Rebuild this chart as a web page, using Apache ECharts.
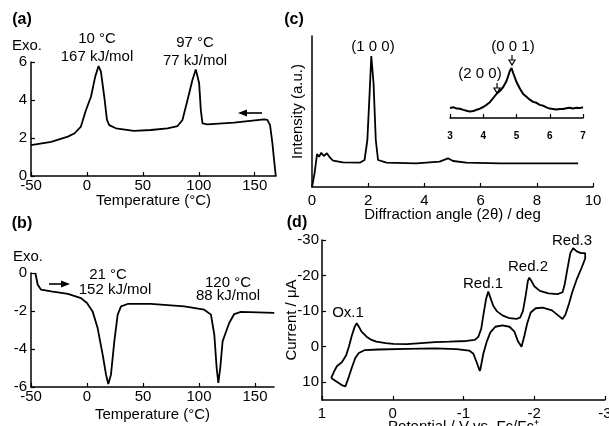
<!DOCTYPE html>
<html>
<head>
<meta charset="utf-8">
<script src="https://cdn.jsdelivr.net/npm/echarts/dist/echarts.min.js"></script>
<style>
  html, body { margin: 0; padding: 0; background: #fff; }
  #main { width: 609px; height: 426px; }
</style>
</head>
<body>
<div id="main"></div>
<script>
// (a) DSC cooling
var tempA = [-50, -32, -17, -11, -5.4, -1, 3.6, 7.4, 10.4, 12.5, 15.5, 17.9, 19.9, 25.9, 42, 57, 72, 81, 85.4, 89.9, 94.3, 97.3, 100.3, 101.8, 103.3, 107.7, 131.5, 158.3, 161.3, 163.7, 165.8, 167.3, 168.8];
var heatA = [1.63, 1.8, 2.07, 2.25, 2.6, 3.45, 4.17, 5.23, 5.79, 5.49, 4.17, 2.95, 2.68, 2.51, 2.37, 2.42, 2.51, 2.63, 2.95, 4.0, 5.05, 5.61, 4.88, 3.47, 2.77, 2.72, 2.81, 2.98, 2.95, 2.68, 1.72, 0.84, 0];

// (b) DSC heating
var tempB = [-46.1, -44, -41, -32, -17, -5.4, 0, 5, 9.5, 14, 17, 19, 21.4, 24.4, 27.4, 30.4, 36.3, 57, 86.9, 104.7, 110.7, 113.7, 115.8, 117.3, 119, 121.1, 123.2, 127, 131.5, 137.5, 167.2];
var heatB = [0, -0.62, -0.88, -0.97, -1.1, -1.32, -1.58, -2.02, -2.9, -4.3, -5.35, -5.84, -5.35, -3.6, -2.19, -1.76, -1.63, -1.63, -1.76, -1.93, -2.19, -3.25, -5.0, -5.79, -5.0, -3.6, -3.25, -2.63, -2.16, -2.05, -2.1];

// (c) XRD
var angleC = [0, 0.09, 0.18, 0.25, 0.33, 0.42, 0.53, 0.63, 0.75, 1.1, 1.7, 1.87, 1.97, 2.05, 2.11, 2.19, 2.27, 2.35, 2.65, 3.71, 4.54, 4.84, 5.02, 5.49, 6.68, 9.47];
var intenC = [0, 13.7, 33, 30.3, 34.3, 31, 33.7, 29.7, 26.3, 24.7, 24.3, 27, 47, 93.7, 131, 103.7, 47, 27, 24.3, 23.7, 25.3, 28.7, 26, 24.3, 23.7, 23.7];

// (c) inset
var angleIn = [3.0, 3.1, 3.2, 3.3, 3.4, 3.5, 3.6, 3.7, 3.8, 3.9, 4.0, 4.1, 4.2, 4.3, 4.4, 4.45, 4.5, 4.6, 4.7, 4.8, 4.85, 4.9, 5.0, 5.1, 5.2, 5.3, 5.4, 5.5, 5.6, 5.7, 5.8, 5.9, 6.0, 6.1, 6.2, 6.3, 6.4, 6.5, 6.6, 6.7, 6.8, 6.9, 7.0];
var intenIn = [10, 10.8, 9.4, 9.2, 8.1, 7.2, 6.4, 6.9, 8.2, 9.3, 11, 13.2, 15.8, 20, 24.2, 26.2, 27, 31, 37, 47, 50, 45, 36, 29.5, 24, 21.2, 18.3, 16.1, 15.2, 13.1, 12.3, 10.6, 9.4, 8.9, 8.4, 9.1, 9.0, 9.8, 10.2, 9.6, 10.3, 9.9, 10.8];

// (d) CV
var cvPot = [0.87, 0.83, 0.79, 0.72, 0.66, 0.62, 0.58, 0.54, 0.51, 0.47, 0.44, 0.37, 0.30, 0.23, 0.10, -0.01, -0.2, -0.4, -0.6, -0.8, -1.04, -1.16, -1.21, -1.25, -1.29, -1.32, -1.35, -1.38, -1.42, -1.47, -1.55, -1.65, -1.75, -1.80, -1.84, -1.88, -1.91, -1.93, -1.96, -2.0, -2.08, -2.2, -2.33, -2.40, -2.43, -2.47, -2.51, -2.55, -2.60, -2.66, -2.72, -2.72, -2.67, -2.60, -2.54, -2.49, -2.44, -2.40, -2.35, -2.25, -2.12, -2.02, -1.95, -1.90, -1.86, -1.82, -1.80, -1.77, -1.72, -1.65, -1.55, -1.45, -1.38, -1.33, -1.28, -1.24, -1.23, -1.19, -1.14, -1.08, -0.9, -0.6, -0.2, 0.2, 0.40, 0.48, 0.53, 0.58, 0.63, 0.67, 0.72, 0.78, 0.87];
var cvCur = [8.8, 7.0, 5.5, 4.4, 2.5, 0.0, -3.0, -5.5, -6.6, -5.3, -4.2, -2.8, -1.9, -1.4, -1.0, -0.8, -0.7, -1.0, -1.3, -1.4, -1.6, -1.9, -2.8, -5.0, -10.0, -13.5, -15.5, -13.8, -11.5, -10.0, -8.8, -8.0, -7.8, -8.2, -10.0, -14.5, -18.5, -19.4, -18.5, -17.0, -15.7, -15.0, -14.8, -15.3, -17.5, -22.0, -26.3, -27.7, -26.8, -26.3, -26.3, -24.8, -22.2, -18.9, -15.5, -12.0, -9.0, -7.8, -8.6, -10.2, -11.0, -10.8, -9.6, -6.5, -3.0, 0.0, 0.2, -1.5, -4.2, -5.6, -6.0, -5.6, -4.0, -1.5, 2.0, 6.2, 6.8, 4.6, 2.0, 1.1, 0.7, 0.5, 0.6, 0.8, 1.0, 1.8, 3.2, 6.0, 9.0, 11.2, 10.8, 10.0, 8.8];

function pairs(xs, ys) {
  return xs.map(function (x, i) { return [x, ys[i]]; });
}

var FONT = 'Liberation Sans';
var FS = 15;
var axisLine = { show: true, onZero: false, lineStyle: { color: '#000', width: 1.5 } };
var tick = { show: true, inside: true, length: 4, lineStyle: { color: '#000', width: 1.2 } };
var lab = function (m, hideMax) { return { color: '#000', fontSize: FS, fontFamily: FONT, margin: m, showMaxLabel: hideMax ? false : null }; };
var nameStyle = { color: '#000', fontSize: FS, fontFamily: FONT };
var curve = { color: '#000', width: 1.8 };

function txt(x, y, s, opt) {
  opt = opt || {};
  return {
    type: 'text', x: x, y: y,
    style: {
      text: s, fill: '#000', fontFamily: FONT,
      fontSize: opt.size || FS, fontWeight: opt.bold ? 'bold' : 'normal',
      align: opt.align || 'center', verticalAlign: 'middle'
    }
  };
}

var chart = echarts.init(document.getElementById('main'));
chart.setOption({
  animation: false,
  backgroundColor: '#fff',
  grid: [
    { left: 31, top: 62, width: 245, height: 114, outerBoundsMode: 'none' },
    { left: 31, top: 273, width: 243, height: 114, outerBoundsMode: 'none' },
    { left: 312, top: 36, width: 281, height: 151, outerBoundsMode: 'none' },
    { left: 450, top: 40, width: 133, height: 78, outerBoundsMode: 'none' },
    { left: 322, top: 240, width: 283, height: 160, outerBoundsMode: 'none' }
  ],
  xAxis: [
    { gridIndex: 0, type: 'value', min: -50, max: 169, interval: 50, axisLine: axisLine, axisTick: tick, axisLabel: lab(2, true), splitLine: { show: false },
      name: 'Temperature (°C)', nameLocation: 'middle', nameGap: 17, nameMoveOverlap: false, nameTextStyle: nameStyle },
    { gridIndex: 1, type: 'value', min: -50, max: 167, interval: 50, axisLine: axisLine, axisTick: tick, axisLabel: lab(2, true), splitLine: { show: false },
      name: 'Temperature (°C)', nameLocation: 'middle', nameGap: 20, nameMoveOverlap: false, nameTextStyle: nameStyle },
    { gridIndex: 2, type: 'value', min: 0, max: 10, interval: 2, axisLine: axisLine, axisTick: tick, axisLabel: lab(6), splitLine: { show: false },
      name: 'Diffraction angle (2θ) / deg', nameLocation: 'middle', nameGap: 20, nameMoveOverlap: false, nameTextStyle: nameStyle },
    { gridIndex: 3, type: 'value', min: 3, max: 7, interval: 1, axisLine: axisLine, axisTick: { show: true, inside: true, length: 4, lineStyle: { color: '#000', width: 1.2 } },
      axisLabel: { color: '#000', fontSize: 10, fontWeight: 'bold', fontFamily: FONT, margin: 13 }, splitLine: { show: false } },
    { gridIndex: 4, type: 'value', min: -3, max: 1, interval: 1, inverse: true, axisLine: axisLine, axisTick: tick, axisLabel: lab(6), splitLine: { show: false },
      name: 'Potential / V vs. Fc/Fc⁺', nameLocation: 'middle', nameGap: 19, nameMoveOverlap: false, nameTextStyle: nameStyle }
  ],
  yAxis: [
    { gridIndex: 0, type: 'value', min: 0, max: 6, interval: 2, axisLine: axisLine, axisTick: tick, axisLabel: lab(4), splitLine: { show: false } },
    { gridIndex: 1, type: 'value', min: -6, max: 0, interval: 2, axisLine: axisLine, axisTick: tick, axisLabel: lab(4), splitLine: { show: false } },
    { gridIndex: 2, type: 'value', min: 0, max: 151, axisLine: axisLine, axisTick: { show: false }, axisLabel: { show: false }, splitLine: { show: false },
      name: 'Intensity (a.u.)', nameLocation: 'middle', nameGap: 7, nameMoveOverlap: false, nameTextStyle: nameStyle },
    { gridIndex: 3, type: 'value', min: 0, max: 78, show: false },
    { gridIndex: 4, type: 'value', min: -30, max: 15, interval: 10, inverse: true, axisLine: axisLine, axisTick: tick, axisLabel: lab(3, true), splitLine: { show: false },
      name: 'Current / μA', nameLocation: 'middle', nameGap: 23, nameMoveOverlap: false, nameTextStyle: nameStyle }
  ],
  series: [
    { type: 'line', xAxisIndex: 0, yAxisIndex: 0, data: pairs(tempA, heatA), showSymbol: false, lineStyle: curve },
    { type: 'line', xAxisIndex: 1, yAxisIndex: 1, data: pairs(tempB, heatB), showSymbol: false, lineStyle: curve },
    { type: 'line', xAxisIndex: 2, yAxisIndex: 2, data: pairs(angleC, intenC), showSymbol: false, lineStyle: curve },
    { type: 'line', xAxisIndex: 3, yAxisIndex: 3, data: pairs(angleIn, intenIn), showSymbol: false, lineStyle: { color: '#000', width: 2 } },
    { type: 'line', xAxisIndex: 4, yAxisIndex: 4, data: pairs(cvPot, cvCur), showSymbol: false, lineStyle: curve }
  ],
  graphic: [
    // panel letters
    txt(22, 20, '(a)', { bold: true, size: 16 }),
    txt(22, 224, '(b)', { bold: true, size: 16 }),
    txt(294, 20, '(c)', { bold: true, size: 16 }),
    txt(297, 223, '(d)', { bold: true, size: 16 }),
    // (a)
    txt(27, 46, 'Exo.'),
    txt(97, 39, '10 °C'),
    txt(97, 57, '167 kJ/mol'),
    txt(195, 43, '97 °C'),
    txt(195, 61, '77 kJ/mol'),
    { type: 'line', shape: { x1: 262, y1: 113, x2: 243, y2: 113 }, style: { stroke: '#000', lineWidth: 1.6 } },
    { type: 'polygon', shape: { points: [[238, 113], [247, 109.5], [247, 116.5]] }, style: { fill: '#000' } },
    // (b)
    txt(28, 257, 'Exo.'),
    txt(108, 275, '21 °C'),
    txt(115, 290, '152 kJ/mol'),
    txt(228, 283, '120 °C'),
    txt(228, 296, '88 kJ/mol'),
    { type: 'line', shape: { x1: 49, y1: 284, x2: 65, y2: 284 }, style: { stroke: '#000', lineWidth: 1.6 } },
    { type: 'polygon', shape: { points: [[70, 284], [61, 280.5], [61, 287.5]] }, style: { fill: '#000' } },
    // (c)
    txt(373, 47, '(1 0 0)'),
    txt(513, 47, '(0 0 1)'),
    txt(480, 74, '(2 0 0)'),
    { type: 'line', shape: { x1: 512, y1: 55, x2: 512, y2: 60 }, style: { stroke: '#000', lineWidth: 1.2 } },
    { type: 'polygon', shape: { points: [[509, 60], [515, 60], [512, 65]] }, style: { fill: '#fff', stroke: '#000', lineWidth: 1.2 } },
    { type: 'line', shape: { x1: 497, y1: 83, x2: 497, y2: 88 }, style: { stroke: '#000', lineWidth: 1.2 } },
    { type: 'polygon', shape: { points: [[494, 88], [500, 88], [497, 93]] }, style: { fill: '#fff', stroke: '#000', lineWidth: 1.2 } },
    // (d)
    txt(348, 313, 'Ox.1'),
    txt(483, 284, 'Red.1'),
    txt(528, 267, 'Red.2'),
    txt(572, 241, 'Red.3')
  ]
});
</script>
</body>
</html>
